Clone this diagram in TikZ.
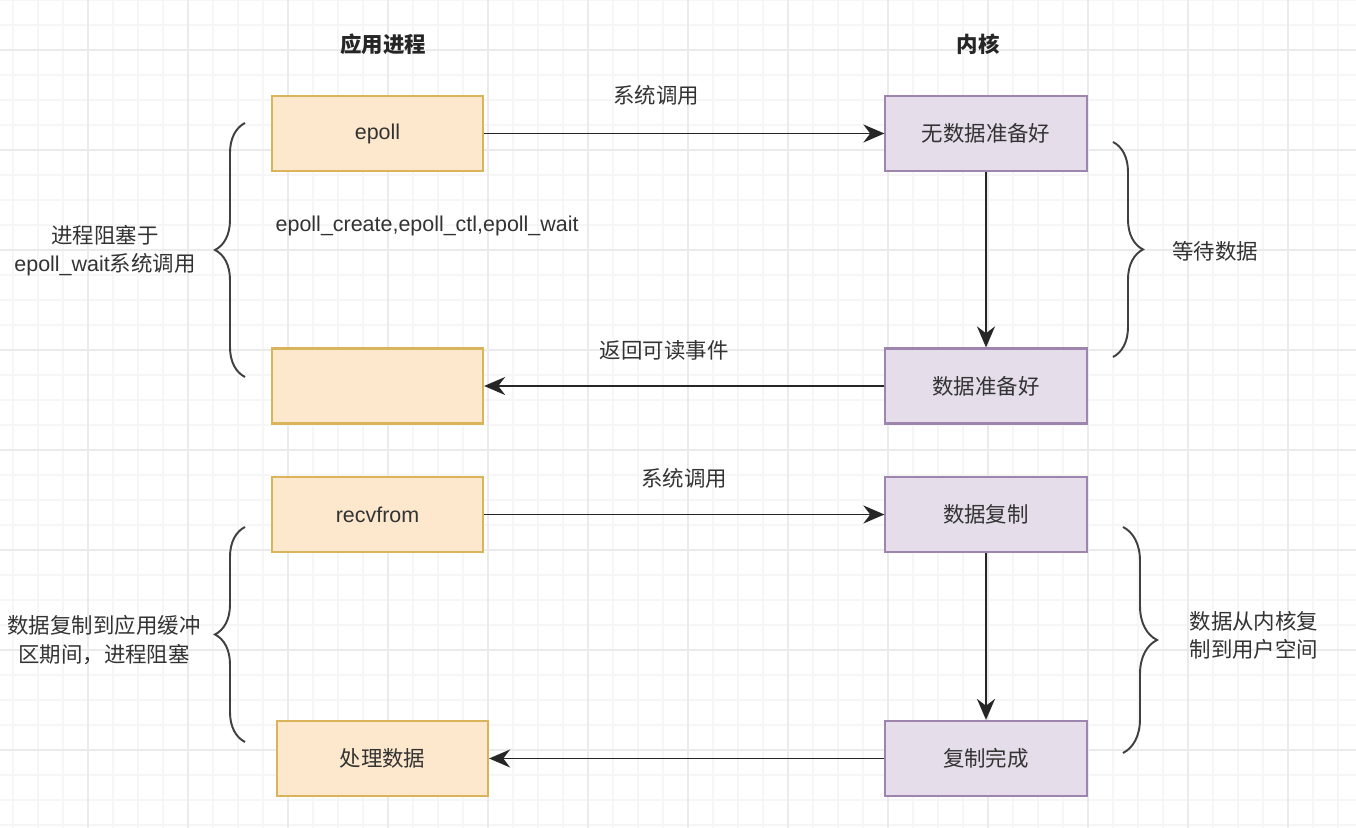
\documentclass[tikz,border=0pt]{standalone}
\usepackage{fontspec}
\setmainfont{Liberation Sans}
\newfontfamily\cjk{Noto Sans CJK SC}
\usetikzlibrary{arrows.meta,decorations.pathreplacing}
\definecolor{procfill}{HTML}{FDE8CD}
\definecolor{procline}{HTML}{D9B45A}
\definecolor{kernfill}{HTML}{E6DDEB}
\definecolor{kernline}{HTML}{9E85AE}
\definecolor{txt}{HTML}{333333}
\definecolor{gridmajor}{HTML}{EBEBEB}
\definecolor{gridminor}{HTML}{F6F6F6}
\tikzset{
  proc/.style={draw=procline, fill=procfill, line width=0.6pt, minimum width=2.11cm, minimum height=0.75cm, text=txt},
  kern/.style={draw=kernline, fill=kernfill, line width=0.6pt, minimum width=2.01cm, minimum height=0.75cm, text=txt},
  lbl/.style={text=txt, align=center, inner sep=0pt},
  flow/.style={-{Stealth[length=2.1mm,width=1.8mm]}, line width=0.55pt, black!85},
  curly/.style={decorate, line width=0.55pt, black!75}
}
\begin{document}
\begin{tikzpicture}[x=0.01cm, y=-0.01cm, font=\fontsize{6.1}{8}\selectfont]
\useasboundingbox (0,0) rectangle (1356,828);
\fill[white] (0,0) rectangle (1356,828);
% grid
\foreach \i in {0,...,54} \draw[gridminor, line width=0.3pt] (13+25*\i,0) -- (13+25*\i,828);
\foreach \j in {0,...,33} \draw[gridminor, line width=0.3pt] (0,25*\j) -- (1356,25*\j);
\foreach \i in {0,...,12} \draw[gridmajor, line width=0.5pt] (88+100*\i,0) -- (88+100*\i,828);
\foreach \j in {0,...,7} \draw[gridmajor, line width=0.5pt] (0,50+100*\j) -- (1356,50+100*\j);

% titles
\node[lbl, font=\fontsize{6.1}{8}\cjk\bfseries, text=black!85] (tapp) at (383,44) {应用进程};
\node[lbl, font=\fontsize{6.1}{8}\cjk\bfseries, text=black!85] (tker) at (978,44) {内核};

% application side
\node[proc] (ep) at (377.5,133.5) {epoll};
\node[proc] (rd) at (377.5,386) {};
\node[proc] (rv) at (377.5,514.5) {recvfrom};
\node[proc] (hd) at (382.5,758.5) {\cjk 处理数据};

% kernel side
\node[kern] (nd) at (986,133.5) {\cjk 无数据准备好};
\node[kern] (ok) at (986,386) {\cjk 数据准备好};
\node[kern] (cp) at (986,514.5) {\cjk 数据复制};
\node[kern] (dn) at (986,758.5) {\cjk 复制完成};

\node[lbl, anchor=west] (calls) at (275,226) {epoll\_create,epoll\_ctl,epoll\_wait};

% arrows
\draw[flow] (ep) -- node[lbl, pos=0.43, above=0.27cm] (sc1) {\cjk 系统调用} (nd);
\draw[flow] (nd) -- (ok);
\draw[flow] (ok) -- node[lbl, pos=0.55, above=0.25cm] (ret) {\cjk 返回可读事件} (rd);
\draw[flow] (rv) -- node[lbl, pos=0.5, above=0.25cm] (sc2) {\cjk 系统调用} (cp);
\draw[flow] (cp) -- (dn);
\draw[flow] (dn) -- (hd);

% braces
\draw[curly, decoration={brace, amplitude=0.3cm}] (245,377) -- (245,123);
\draw[curly, decoration={brace, amplitude=0.3cm}] (245,742) -- (245,527);
\draw[curly, decoration={brace, amplitude=0.3cm}] (1113,142) -- (1113,357);
\draw[curly, decoration={brace, amplitude=0.34cm}] (1123,527) -- (1123,753);

\node[lbl] (blk1) at (105,251) {\cjk 进程阻塞于\\epoll\_wait{\cjk 系统调用}};
\node[lbl] (wait) at (1215,251) {\cjk 等待数据};
\node[lbl] (blk2) at (104,640) {\cjk 数据复制到应用缓冲\\\cjk 区期间，进程阻塞};
\node[lbl] (copy) at (1254,635) {\cjk 数据从内核复\\\cjk 制到用户空间};
\end{tikzpicture}
\end{document}
